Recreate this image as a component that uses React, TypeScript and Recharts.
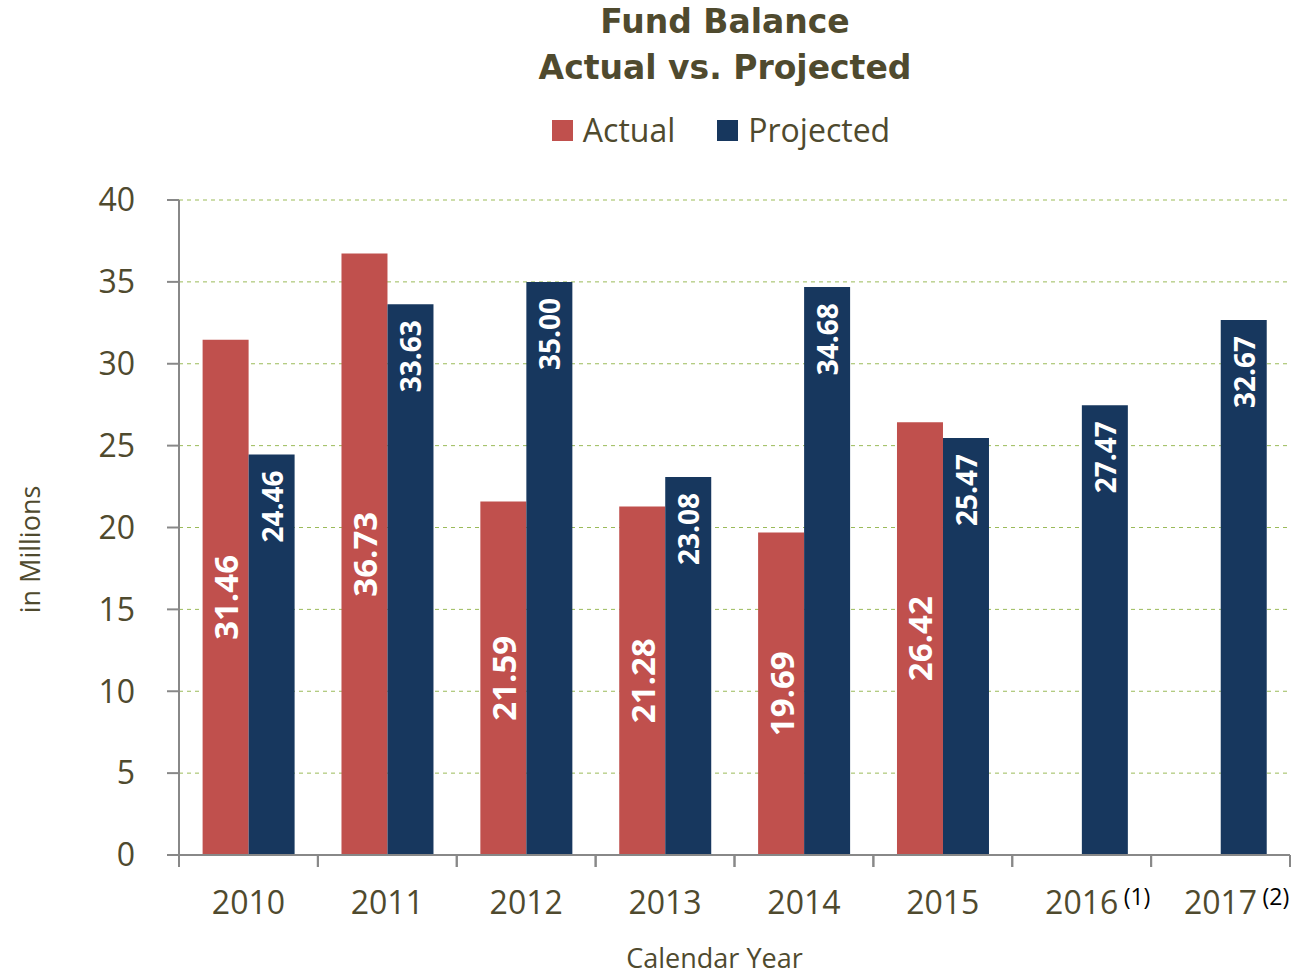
import { BarChart, Bar, XAxis, YAxis, CartesianGrid, Legend, LabelList } from "recharts";

const years = ["2010", "2011", "2012", "2013", "2014", "2015", "2016", "2017"];
const footnotes = ["", "", "", "", "", "", "(1)", "(2)"];
const actual = [31.46, 36.73, 21.59, 21.28, 19.69, 26.42, null, null];
const projected = [24.46, 33.63, 35.0, 23.08, 34.68, 25.47, 27.47, 32.67];
const yTicks = [0, 5, 10, 15, 20, 25, 30, 35, 40];

const TEXT = "#4F4A2E";
const RED = "#C0504D";
const NAVY = "#17375E";
const FONT = "'Open Sans', sans-serif";

const W = 1300;
const H = 976;
const MARGIN = { top: 160, right: 10, bottom: 0, left: 0 };
const Y_WIDTH = 179;
const BAND = (W - MARGIN.left - MARGIN.right - Y_WIDTH) / years.length;

const data = years.map((year, i) => ({
  year,
  note: footnotes[i],
  actual: actual[i],
  projected: projected[i],
}));

function YearTick(props: any) {
  const { x, y, payload, index } = props;
  const note = footnotes[index];
  return (
    <g>
      <line x1={x - BAND / 2} x2={x - BAND / 2} y1={y - 8} y2={y + 4} stroke="#888" strokeWidth={2} />
      <line x1={x + BAND / 2} x2={x + BAND / 2} y1={y - 8} y2={y + 4} stroke="#888" strokeWidth={2} />
      <text x={x} y={y + 51} textAnchor="middle" fill={TEXT} fontSize={32} fontFamily={FONT}>
        {payload.value}
      </text>
      {note && (
        <text x={x + 42} y={y + 42} textAnchor="start" fill="#000" fontSize={23} fontFamily={FONT}>
          {note}
        </text>
      )}
    </g>
  );
}

function CenterLabel(props: any) {
  const { x, y, width, height, value } = props;
  if (value == null) return null;
  const cx = x + width / 2;
  const cy = y + height / 2;
  return (
    <text
      x={cx}
      y={cy}
      transform={`rotate(-90 ${cx} ${cy})`}
      textAnchor="middle"
      dominantBaseline="central"
      fill="#fff"
      fontSize={33}
      fontWeight={700}
      fontFamily={FONT}
    >
      {Number(value).toFixed(2)}
    </text>
  );
}

function TopLabel(props: any) {
  const { x, y, width, value } = props;
  if (value == null) return null;
  const cx = x + width / 2;
  const cy = y + 16;
  return (
    <text
      x={cx}
      y={cy}
      transform={`rotate(-90 ${cx} ${cy})`}
      textAnchor="end"
      dominantBaseline="central"
      fill="#fff"
      fontSize={28}
      fontWeight={700}
      fontFamily={FONT}
    >
      {Number(value).toFixed(2)}
    </text>
  );
}

function LegendContent() {
  const items = [
    { name: "Actual", color: RED },
    { name: "Projected", color: NAVY },
  ];
  return (
    <div style={{ height: 40, display: "flex", justifyContent: "center", alignItems: "center", gap: 42, paddingLeft: 152 }}>
      {items.map((it) => (
        <div key={it.name} style={{ display: "flex", alignItems: "center", gap: 10 }}>
          <span style={{ width: 21, height: 21, background: it.color, display: "inline-block" }} />
          <span style={{ fontFamily: FONT, fontSize: 32, color: TEXT, lineHeight: "40px" }}>{it.name}</span>
        </div>
      ))}
    </div>
  );
}

export default function App() {
  return (
    <div style={{ position: "absolute", left: 0, top: 0, width: W, height: H, background: "#fff" }}>
      <div
        style={{
          position: "absolute",
          left: 150,
          width: W - 150,
          top: -1,
          textAlign: "center",
          fontFamily: "'DejaVu Sans', sans-serif",
          fontWeight: 700,
          fontSize: 33,
          lineHeight: "46px",
          color: TEXT,
        }}
      >
        Fund Balance
        <br />
        Actual vs. Projected
      </div>
      <BarChart width={W} height={H} data={data} margin={MARGIN} barCategoryGap="17%" barGap={0}>
        <CartesianGrid vertical={false} stroke="#9BBB59" strokeDasharray="4 4" />
        <Legend verticalAlign="top" content={<LegendContent />} wrapperStyle={{ top: 110 }} />
        <XAxis
          dataKey="year"
          height={121}
          tickLine={false}
          axisLine={{ stroke: "#888", strokeWidth: 2 }}
          tick={<YearTick />}
          interval={0}
          label={{
            value: "Calendar Year",
            position: "insideBottom",
            offset: 8,
            dx: -20,
            fill: TEXT,
            fontSize: 27,
            fontFamily: FONT,
          }}
        />
        <YAxis
          width={Y_WIDTH}
          domain={[0, 40]}
          ticks={yTicks}
          interval={0}
          tickSize={12}
          tickMargin={32}
          tickLine={{ stroke: "#888", strokeWidth: 2 }}
          axisLine={{ stroke: "#888", strokeWidth: 2 }}
          tick={{ fill: TEXT, fontSize: 32, fontFamily: FONT }}
          label={{
            value: "in Millions",
            angle: -90,
            position: "insideLeft",
            offset: 30,
            dy: 22,
            fill: TEXT,
            fontSize: 27,
            fontFamily: FONT,
            style: { textAnchor: "middle" },
          }}
        />
        <Bar dataKey="actual" name="Actual" fill={RED} isAnimationActive={false}>
          <LabelList dataKey="actual" content={<CenterLabel />} />
        </Bar>
        <Bar dataKey="projected" name="Projected" fill={NAVY} isAnimationActive={false}>
          <LabelList dataKey="projected" content={<TopLabel />} />
        </Bar>
      </BarChart>
    </div>
  );
}
